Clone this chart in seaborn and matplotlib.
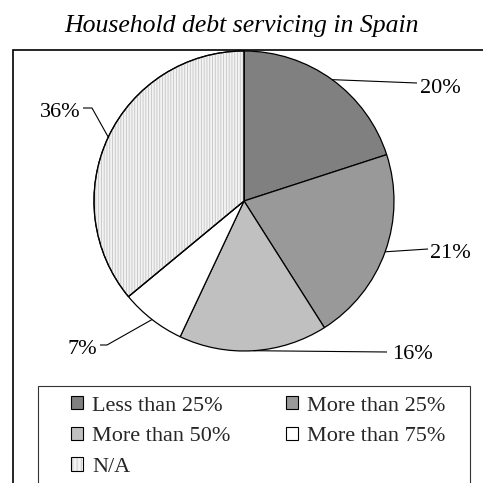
import numpy as np
import matplotlib
matplotlib.use("Agg")
import matplotlib.pyplot as plt
from matplotlib.patches import Rectangle, Wedge, Patch
from matplotlib.legend_handler import HandlerTuple
import seaborn as sns

# ---- data ----
categories = ["Less than 25%", "More than 25%", "More than 50%", "More than 75%", "N/A"]
shares = [20, 21, 16, 7, 36]
pct_labels = ["20%", "21%", "16%", "7%", "36%"]
title = "Household debt servicing in Spain"

# ---- style ----
sns.set_theme(style="white")
plt.rcParams["font.family"] = ["Liberation Serif", "DejaVu Serif"]
plt.rcParams["hatch.linewidth"] = 0.6
palette = sns.color_palette(["#808080", "#999999", "#c0c0c0", "#ffffff", "#f3f3f3"])
HATCH_COLOR = "#c4c4c4"

W = H = 483
fig = plt.figure(figsize=(4.83, 4.83), dpi=100)
ax = fig.add_axes([0, 0, 1, 1])

def Y(y):  # pixel-from-top -> data y
    return H - y

cx, cy, R = 244, Y(201), 150
wedges, _ = ax.pie(shares, colors=palette, startangle=90, counterclock=False,
                   center=(cx, cy), radius=R,
                   wedgeprops=dict(edgecolor="black", linewidth=0.9))
# hatch overlay for N/A
wna = wedges[4]
ax.add_patch(Wedge((cx, cy), R, wna.theta1, wna.theta2, facecolor="none",
                   edgecolor=HATCH_COLOR, hatch="||||||", linewidth=0, zorder=wna.get_zorder() + 0.1))
ax.add_patch(Wedge((cx, cy), R, wna.theta1, wna.theta2, facecolor="none",
                   edgecolor="black", linewidth=0.9, zorder=wna.get_zorder() + 0.2))

ax.set_xlim(0, W)
ax.set_ylim(0, H)
ax.set_aspect("equal")
ax.axis("off")

# ---- percent labels with leader lines (layout only) ----
label_layout = [
    dict(path=[(417, 83)], text=(420, 93), ha="left"),
    dict(path=[(428, 249)], text=(430, 258), ha="left"),
    dict(path=[(387, 352)], text=(392, 359), ha="left"),
    dict(path=[(107, 345), (100, 345)], text=(97, 354), ha="right"),
    dict(path=[(92, 108), (83, 108)], text=(81, 117), ha="right"),
]
FS = 16
for w, lab, lay in zip(wedges, pct_labels, label_layout):
    mid = np.deg2rad((w.theta1 + w.theta2) / 2)
    sx, sy = cx + R * np.cos(mid), cy + R * np.sin(mid)
    xs = [sx] + [p[0] for p in lay["path"]]
    ys = [sy] + [Y(p[1]) for p in lay["path"]]
    ax.plot(xs, ys, color="black", lw=0.8, solid_capstyle="butt", zorder=5)
    ax.text(lay["text"][0], Y(lay["text"][1]), lab, ha=lay["ha"], va="baseline",
            fontsize=FS, color="black")

# ---- outer frame and legend box ----
ax.add_patch(Rectangle((13, -20), 520, Y(50) + 20, facecolor="none",
                       edgecolor="black", lw=1.2, clip_on=False, zorder=0))
ax.add_patch(Rectangle((38, -20), 470 - 38, Y(386) + 20, facecolor="none",
                       edgecolor="#333333", lw=0.8, clip_on=False, zorder=0))

# ---- legend (row-major order in a 2-column layout) ----
handles = []
for c, cat in zip(palette, categories):
    if cat == "N/A":
        h = (Patch(facecolor=c, edgecolor=HATCH_COLOR, hatch="||||", linewidth=0),
             Patch(facecolor="none", edgecolor="black", linewidth=0.8))
    else:
        h = Patch(facecolor=c, edgecolor="black", linewidth=0.8)
    handles.append(h)
order = [0, 2, 4, 1, 3]
leg = ax.legend([handles[i] for i in order], [categories[i] for i in order],
                ncol=2, loc="upper left",
                bbox_to_anchor=(71, Y(396)), bbox_transform=ax.transData,
                frameon=False, fontsize=FS, borderpad=0, borderaxespad=0,
                handlelength=0.55, handleheight=0.55, handletextpad=0.4,
                columnspacing=2.5, labelspacing=0.5,
                handler_map={tuple: HandlerTuple(ndivide=1, pad=0)})

# ---- title ----
fig.text(242 / W, Y(32) / H, title, ha="center", va="baseline",
         fontsize=18.5, style="italic", color="black")

fig.savefig("out.png", dpi=100)
